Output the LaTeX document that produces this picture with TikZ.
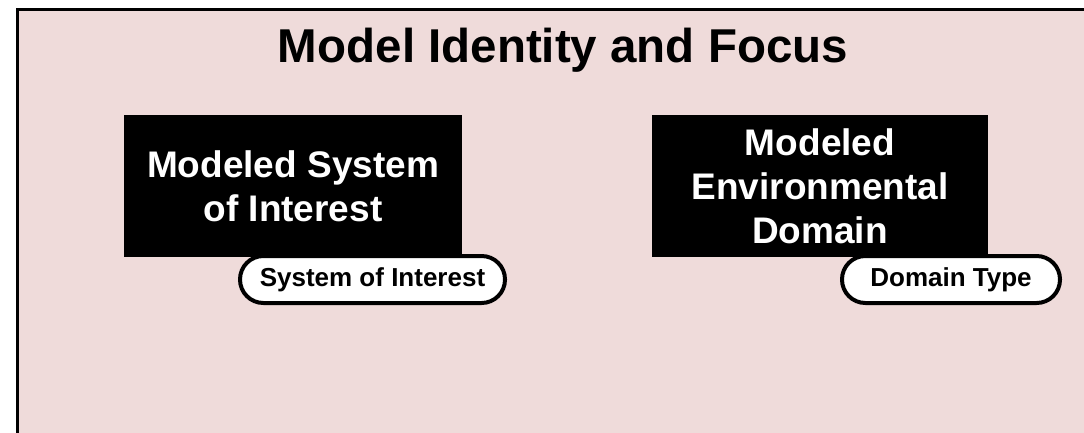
\documentclass[tikz,border=0pt]{standalone}
\usepackage{fontspec}
\setmainfont{Liberation Sans}
\usepackage{xcolor}
\usetikzlibrary{positioning}
\definecolor{panelpink}{HTML}{EFDBDA}

\begin{document}
\begin{tikzpicture}[x=1pt,y=1pt,
  box/.style={fill=black,text=white,align=center,minimum width=338pt,minimum height=142pt,
  inner sep=0pt,outer sep=0pt,font=\bfseries\fontsize{37}{44}\selectfont},
  pill/.style={draw,fill=white,line width=4pt,rounded corners=23.4pt,minimum height=47pt,
  inner sep=0pt,outer sep=0pt,font=\bfseries\fontsize{26}{30}\selectfont},
  node distance=190pt]
\useasboundingbox (0,0) rectangle (1084,432);
\clip (0,0) rectangle (1084,432);
\draw[fill=panelpink,line width=3pt] (17.5,422.5) rectangle (1110,-20);
\node[anchor=base,font=\bfseries\fontsize{47.5}{52}\selectfont] (title) at (563,369) {Model Identity and Focus};
\node[box] (msoi) at (293,246) {Modeled System\\of Interest};
\node[box,minimum width=336pt,right=of msoi] (med) {Modeled\\Environmental\\Domain};
\node[pill,minimum width=265pt,below left=-1pt and -43pt of msoi.south east] (soi) {System of Interest};
\node[pill,minimum width=218pt,below left=-1pt and -72pt of med.south east] (dtype) {Domain Type};
\end{tikzpicture}
\end{document}
